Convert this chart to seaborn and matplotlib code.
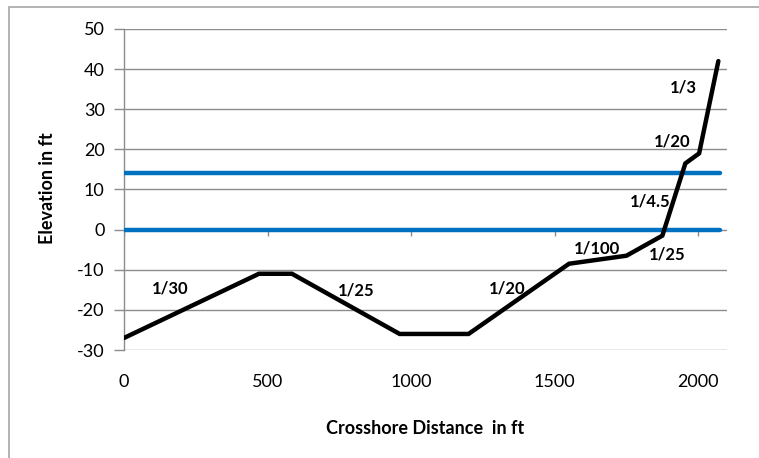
import matplotlib
matplotlib.use("Agg")
import matplotlib.pyplot as plt
import seaborn as sns
import pandas as pd
from matplotlib.patches import Rectangle

# Beach profile: crosshore distance (ft) vs elevation (ft)
distance = [0, 470, 585, 960, 1200, 1550, 1750, 1875, 1955, 2003, 2070]
elevation = [-27, -11, -11, -26, -26, -8.5, -6.5, -1.5, 16.5, 19, 42]

# Reference water levels (ft)
water_levels = [0, 14]
water_x = [0, 2075]

# Slope annotations: text, x, y
slope_text = ["1/30", "1/25", "1/20", "1/100", "1/25", "1/4.5", "1/20", "1/3"]
slope_x = [160, 808, 1334, 1648, 1892, 1833, 1909, 1948]
slope_y = [-14.6, -15.1, -14.6, -4.6, -6.3, 7.1, 21.9, 35.3]

x_ticks = [0, 500, 1000, 1500, 2000]
y_ticks = [-30, -20, -10, 0, 10, 20, 30, 40, 50]

sns.set_theme(style="white")
plt.rcParams["font.family"] = ["Lato", "DejaVu Sans"]
plt.rcParams["text.color"] = "black"

fig = plt.figure(figsize=(7.59, 4.58), dpi=100)
ax = fig.add_axes([0.1634, 0.2358, 0.7944, 0.7009])

grid_col = "#8c8c8c"
for yv in y_ticks:
    ax.axhline(yv, color=grid_col, lw=1.0, zorder=1)

blue = "#0070C0"
for lvl in water_levels:
    wl = pd.DataFrame({"x": water_x, "y": [lvl, lvl]})
    sns.lineplot(data=wl, x="x", y="y", ax=ax, color=blue, lw=3.2,
                 zorder=3, estimator=None, sort=False)

# small tick marks on the horizontal axis at zero elevation
ax.vlines(x_ticks, -1.7, 0, color=grid_col, lw=1.0, zorder=2)

profile = pd.DataFrame({"x": distance, "y": elevation})
sns.lineplot(data=profile, x="x", y="y", ax=ax, color="black", lw=3.2,
             zorder=4, estimator=None, sort=False,
             solid_joinstyle="miter")

for t, xv, yv in zip(slope_text, slope_x, slope_y):
    ax.text(xv, yv, t, ha="center", va="center", fontsize=12,
            fontweight="bold", color="black", zorder=5)

ax.set_xlim(0, 2100)
ax.set_ylim(-30, 50)
ax.set_xticks(x_ticks)
ax.set_yticks(y_ticks)
ax.set_xticklabels([str(v) for v in x_ticks], fontsize=13, color="black")
ax.set_yticklabels([str(v) for v in y_ticks], fontsize=13, color="black")
ax.tick_params(axis="x", length=0, pad=17)
ax.tick_params(axis="y", length=7, width=1.0, color=grid_col, pad=7,
               direction="out")
ax.tick_params(left=True)

for s in ["top", "right", "bottom"]:
    ax.spines[s].set_visible(False)
ax.spines["left"].set_color(grid_col)
ax.spines["left"].set_linewidth(1.0)

ax.set_xlabel("Crosshore Distance  in ft", fontsize=13, fontweight="bold",
              va="center", color="black")
ax.set_ylabel("Elevation in ft", fontsize=13, fontweight="bold",
              va="center", color="black")
ax.xaxis.set_label_coords(0.5, -0.243)
ax.yaxis.set_label_coords(-0.1277, 0.505)

# chart frame
fig.patches.append(Rectangle((9 / 759, -0.1), 1.2, 1 - 7 / 458 + 0.1,
                             transform=fig.transFigure, fill=False,
                             edgecolor="#a6a6a6", lw=1.2, zorder=0))

fig.savefig("out.png", dpi=100)
